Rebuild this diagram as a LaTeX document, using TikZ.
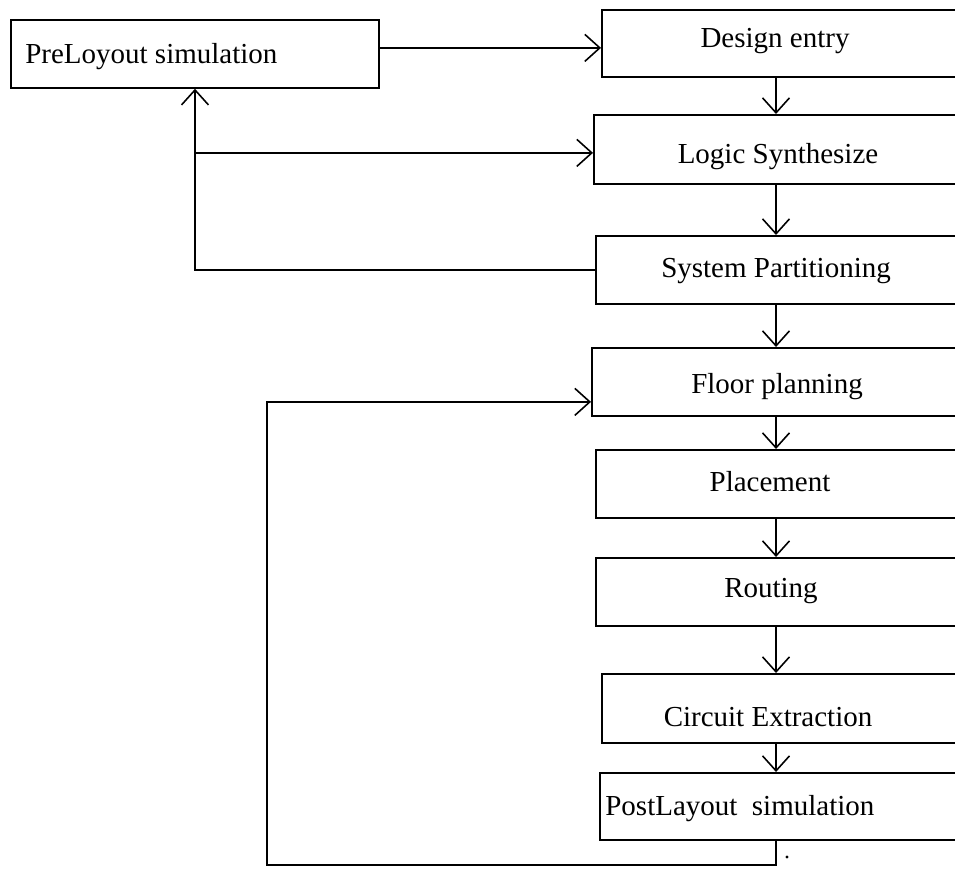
\documentclass[tikz,border=0pt]{standalone}
\usepackage{xcolor}
\usepackage{fontspec}
\setmainfont{Liberation Serif}
\usepackage{tikz}
\usetikzlibrary{positioning, arrows.meta}
\newcommand{\pxu}{0.02cm}

\begin{document}
\begin{tikzpicture}[x=0.02cm, y=-0.02cm,
	caja/.style={draw, line width=1pt, anchor=north west, inner sep=0pt},
	texto/.style={font=\fontsize{16.5}{20}\selectfont, inner sep=0pt, anchor=base},
	flecha/.style={line width=1pt, -{Straight Barb[length=0.3cm, width=0.54cm, line width=0.9pt]}}]
			\useasboundingbox (0,0) rectangle (955,869);
			\clip (0,0) rectangle (955,869);
			
			% Cajas
			\node[caja, minimum width=368*\pxu, minimum height=68*\pxu] (pre) at (10,19) {};
			\node[caja, minimum width=361*\pxu, minimum height=67*\pxu] (design) at (601,9) {};
			\node[caja, minimum width=369*\pxu, minimum height=69*\pxu] (logic) at (593,114) {};
			\node[caja, minimum width=367*\pxu, minimum height=68*\pxu] (system) at (595,235) {};
			\node[caja, minimum width=371*\pxu, minimum height=68*\pxu] (floor) at (591,347) {};
			\node[caja, minimum width=367*\pxu, minimum height=68*\pxu] (place) at (595,449) {};
			\node[caja, minimum width=367*\pxu, minimum height=68*\pxu] (route) at (595,557) {};
			\node[caja, minimum width=361*\pxu, minimum height=69*\pxu] (circuit) at (601,673) {};
			\node[caja, minimum width=363*\pxu, minimum height=67*\pxu] (post) at (599,772) {};
			
			% Textos
			\node[texto, anchor=base west] (tpre) at (25,63) {PreLoyout simulation};
			\node[texto] (tdesign) at (775,47) {Design entry};
			\node[texto] (tlogic) at (778,163) {Logic Synthesize};
			\node[texto] (tsystem) at (776,277) {System Partitioning};
			\node[texto] (tfloor) at (777,393) {Floor planning};
			\node[texto] (tplace) at (770,491) {Placement};
			\node[texto] (troute) at (771,597) {Routing};
			\node[texto] (tcircuit) at (768,726) {Circuit Extraction};
			\node[texto, anchor=base west] (tpost) at (605,815) {PostLayout\ \ simulation};
			
			% Flujo principal
			\coordinate (eje) at (776,0);
			\draw[flecha] (design.south -| eje) -- (logic.north -| eje);
			\draw[flecha] (logic.south -| eje) -- (system.north -| eje);
			\draw[flecha] (system.south -| eje) -- (floor.north -| eje);
			\draw[flecha] (floor.south -| eje) -- (place.north -| eje);
			\draw[flecha] (place.south -| eje) -- (route.north -| eje);
			\draw[flecha] (route.south -| eje) -- (circuit.north -| eje);
			\draw[flecha] (circuit.south -| eje) -- (post.north -| eje);
			
			% Entrada
			\coordinate (sale) at ([yshift=0.12cm]pre.east);
			\draw[flecha] (sale) -- (sale -| design.west);
			
			% Retorno superior
			\coordinate (ret) at (195,0);
			\coordinate (rama) at ([yshift=-0.07cm]logic.west);
			\draw[flecha] (system.west) -| (ret |- pre.south);
			\draw[flecha] (ret |- rama) -- (rama);
			
			% Retorno inferior
			\coordinate (fondo) at (267,865);
			\coordinate (entra) at ([yshift=-0.4cm]floor.west);
			\draw[flecha] (post.south -| eje) |- (fondo) |- (entra);
			\fill (787,857) circle (0.9pt);
\end{tikzpicture}
\end{document}
